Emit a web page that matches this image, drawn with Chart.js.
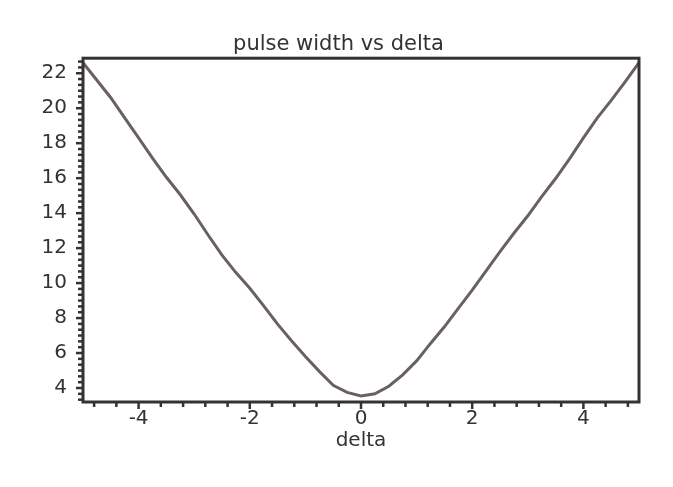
<!DOCTYPE html>
<html><head><meta charset="utf-8">
<script src="https://cdn.jsdelivr.net/npm/chart.js@4.4.1/dist/chart.umd.min.js"></script>
<style>html,body{margin:0;padding:0;background:#fff;} #wrap{width:673px;height:487px;}</style>
</head><body><div id="wrap"><canvas id="c" width="673" height="487"></canvas></div>
<script>
const deltaValues = [-5,-4.75,-4.5,-4.25,-4,-3.75,-3.5,-3.25,-3,-2.75,-2.5,-2.25,-2,-1.75,-1.5,-1.25,-1,-0.75,-0.5,-0.25,0,0.25,0.5,0.75,1,1.25,1.5,1.75,2,2.25,2.5,2.75,3,3.25,3.5,3.75,4,4.25,4.5,4.75,5];
const pulseWidth = [22.6,21.6,20.6,19.45,18.3,17.15,16.05,15.05,13.95,12.75,11.6,10.6,9.7,8.7,7.65,6.7,5.8,4.95,4.15,3.75,3.55,3.67,4.1,4.75,5.55,6.55,7.5,8.55,9.6,10.7,11.8,12.85,13.85,14.95,15.98,17.1,18.3,19.45,20.45,21.5,22.6];
const xTickLabels = [-4,-2,0,2,4];
const yTickLabels = [4,6,8,10,12,14,16,18,20,22];
const chartTitle = 'pulse width vs delta';
const xAxisTitle = 'delta';

const AXIS = '#333333';
const TEXT = '#333333';
const LINE = '#6b6060';
Chart.defaults.font.family = "'DejaVu Sans', sans-serif";
Chart.defaults.color = TEXT;

const frameTicks = {
  id: 'frameTicks',
  afterDraw(chart) {
    const {ctx, chartArea: a, scales: {x, y}} = chart;
    ctx.save();
    ctx.strokeStyle = AXIS;
    ctx.lineCap = 'butt';
    ctx.lineWidth = 2.5;
    for (let k = Math.ceil(y.min * 3 - 1e-9); k <= Math.floor(y.max * 3 + 1e-9); k++) {
      const py = y.getPixelForValue(k / 3);
      const len = (k % 6 === 0) ? 7 : 5;
      ctx.beginPath(); ctx.moveTo(a.left, py); ctx.lineTo(a.left - len, py); ctx.stroke();
    }
    for (let k = Math.ceil(x.min / 0.4 - 1e-9); k <= Math.floor(x.max / 0.4 + 1e-9); k++) {
      const px = x.getPixelForValue(k * 0.4);
      const len = (Math.abs(k) % 5 === 0) ? 7 : 5;
      ctx.beginPath(); ctx.moveTo(px, a.bottom); ctx.lineTo(px, a.bottom + len); ctx.stroke();
    }
    ctx.lineWidth = 3;
    ctx.strokeRect(a.left, a.top, a.right - a.left, a.bottom - a.top);
    ctx.restore();
  }
};

new Chart(document.getElementById('c'), {
  type: 'line',
  data: {
    datasets: [{
      data: deltaValues.map((d, i) => ({x: d, y: pulseWidth[i]})),
      borderColor: LINE,
      borderWidth: 3,
      pointRadius: 0,
      tension: 0,
      fill: false
    }]
  },
  options: {
    responsive: false,
    animation: false,
    devicePixelRatio: 1,
    layout: {padding: {left: 38, right: 34, top: 0, bottom: 0}},
    plugins: {
      legend: {display: false},
      tooltip: {enabled: false},
      title: {
        display: true, text: chartTitle, color: TEXT,
        font: {size: 21, weight: 'normal', family: "'DejaVu Sans', sans-serif"},
        padding: {top: 32, bottom: 1}
      }
    },
    scales: {
      x: {
        type: 'linear', min: -5, max: 5,
        grid: {display: false, drawTicks: false},
        border: {display: false},
        afterBuildTicks: s => { s.ticks = xTickLabels.map(v => ({value: v})); },
        afterFit: s => { s.height = 85; },
        ticks: {font: {size: 20}, color: TEXT, padding: 5, maxRotation: 0},
        title: {display: true, text: xAxisTitle, color: TEXT, font: {size: 20}, padding: {top: 0, bottom: 34}}
      },
      y: {
        type: 'linear', min: 3.2, max: 22.86,
        grid: {display: false, drawTicks: false},
        border: {display: false},
        afterBuildTicks: s => { s.ticks = yTickLabels.map(v => ({value: v})); },
        afterFit: s => { s.width = 45; },
        ticks: {font: {size: 20}, color: TEXT, padding: 16}
      }
    }
  },
  plugins: [frameTicks]
});
</script>
</body></html>
